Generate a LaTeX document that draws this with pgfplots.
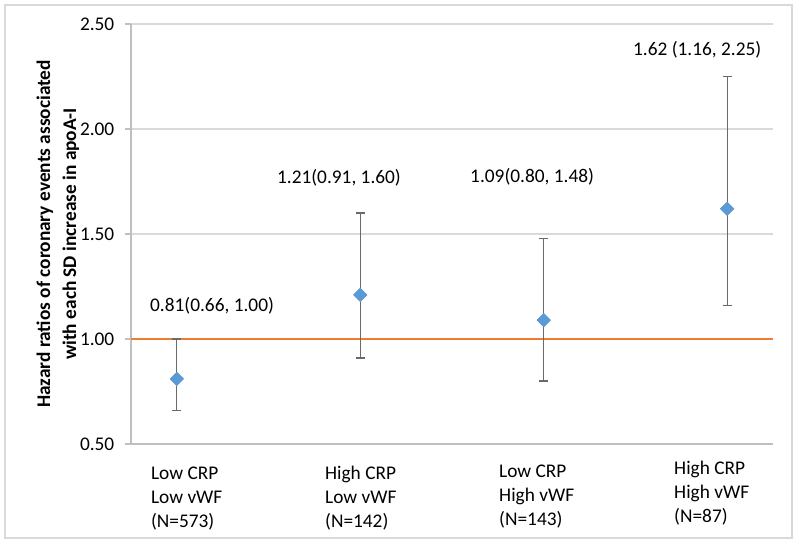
\documentclass[border=0pt]{standalone}
\usepackage{pgfplots}
\pgfplotsset{compat=1.18}
\usepackage{fontspec}
\setmainfont{Carlito}
\definecolor{gridc}{HTML}{D9D9D9}
\definecolor{axc}{HTML}{BFBFBF}
\definecolor{ptc}{HTML}{5B9BD5}
\definecolor{orc}{HTML}{ED7D31}
\definecolor{errc}{HTML}{6A6A6A}
\pgfplotstableread{
x y ep em
1 0.81 0.19 0.15
2 1.21 0.39 0.30
3 1.09 0.39 0.29
4 1.62 0.63 0.46
}\hr
\begin{document}
\begin{tikzpicture}
\fontsize{14.5pt}{18pt}\selectfont
\begin{axis}[
  scale only axis,
  width=481.5pt, height=315pt,
  xmin=0.75, xmax=4.25,
  ymin=0.5, ymax=2.5,
  ytick={0.5,1,1.5,2,2.5},
  xtick=\empty,
  axis x line*=bottom,
  axis y line*=left,
  axis line style={axc, line width=0.8pt},
  ymajorgrids,
  grid style={gridc, line width=0.8pt},
  y tick style={axc, line width=0.8pt},
  tick align=outside,
  major tick length=4.5pt,
  yticklabel style={/pgf/number format/.cd, fixed, fixed zerofill, precision=2, /tikz/.cd, font=\fontsize{14.5pt}{18pt}\selectfont, xshift=-3pt},
  /pgf/number format/assume math mode=true,
  ylabel={Hazard ratios of coronary events associated\\with each SD increase in apoA-I},
  every axis y label/.style={at={(rel axis cs:-0.114,0.5)}, rotate=90, anchor=center, align=center, font=\fontsize{14.5pt}{19.5pt}\selectfont\bfseries},
  clip=false,
]
\addplot[orc, line width=0.9pt] coordinates {(0.75,1) (4.25,1)};
\addplot[
  only marks,
  mark=square*,
  mark size=3.5pt,
  mark options={rotate=45, fill=ptc, draw=ptc},
  error bars/.cd,
    y dir=both, y explicit,
    error bar style={errc, line width=0.9pt},
    error mark options={errc, line width=0.9pt, mark size=3.4pt, rotate=90},
] table[x=x, y=y, y error plus=ep, y error minus=em] {\hr};
\addplot[
  only marks,
  mark=square*,
  mark size=3.5pt,
  mark options={rotate=45, fill=ptc, draw=ptc},
] table[x=x, y=y] {\hr};
\node[anchor=west, inner sep=0pt] at (axis cs:0.853,1.157) {0.81(0.66, 1.00)};
\node[anchor=west, inner sep=0pt] at (axis cs:1.545,1.767) {1.21(0.91, 1.60)};
\node[anchor=west, inner sep=0pt] at (axis cs:2.598,1.771) {1.09(0.80, 1.48)};
\node[anchor=west, inner sep=0pt] at (axis cs:3.486,2.376) {1.62 (1.16, 2.25)};
\node[anchor=north west, inner sep=0pt, align=left] at (axis cs:0.858,0.411) {\strut Low CRP\\Low vWF\\(N=573)};
\node[anchor=north west, inner sep=0pt, align=left] at (axis cs:1.807,0.411) {\strut High CRP\\Low vWF\\(N=142)};
\node[anchor=north west, inner sep=0pt, align=left] at (axis cs:2.756,0.4205) {\strut Low CRP\\High vWF\\(N=143)};
\node[anchor=north west, inner sep=0pt, align=left] at (axis cs:3.710,0.435) {\strut High CRP\\High vWF\\(N=87)};
\end{axis}
\draw[gridc, line width=0.8pt] ([shift={(-94.5pt,-70.5pt)}]current axis.south west) rectangle ([shift={(14.25pt,14.25pt)}]current axis.north east);
\useasboundingbox ([shift={(-98.25pt,-75pt)}]current axis.south west) rectangle ([shift={(20.25pt,18pt)}]current axis.north east);
\end{tikzpicture}
\end{document}
